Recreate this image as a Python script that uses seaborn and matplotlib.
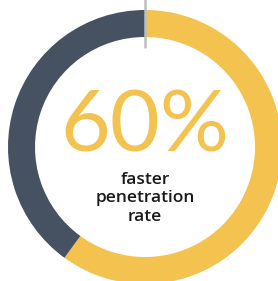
import matplotlib
matplotlib.use("Agg")
import matplotlib.pyplot as plt
import seaborn as sns

# data
labels = ["faster", "rest"]
shares = [60, 40]
big_label = "60%"
caption = ["faster", "penetration", "rate"]
colors = ["#F4C24F", "#465262"]

sns.set_theme(style="white")
plt.rcParams["font.family"] = ["Lato", "DejaVu Sans"]

fig = plt.figure(figsize=(2.78, 2.81), dpi=100)
ax = fig.add_axes([0, 0, 1, 1])

cx, cy = 145, 134
ax.pie(shares, colors=colors, startangle=90, counterclock=False,
       center=(cx, cy), radius=137, frame=True,
       wedgeprops=dict(width=27, linewidth=0))
ax.set_xlim(0, 278)
ax.set_ylim(0, 281)
ax.axis("off")

# thin marker at 12 o'clock
ax.plot([cx, cx], [cy + 100, 281], color="#BDBDBD", lw=1.8, zorder=5)

ax.text(cx, 154, big_label, ha="center", va="center", fontsize=62,
        color=colors[0], fontweight="normal")
for i, line in enumerate(caption):
    ax.text(cx, 101 - i * 18.5, line, ha="center", va="center",
            fontsize=12.5, color="#1a1a1a", family=["Open Sans", "DejaVu Sans"],
            fontweight="semibold")

fig.savefig("out.png", dpi=100)
